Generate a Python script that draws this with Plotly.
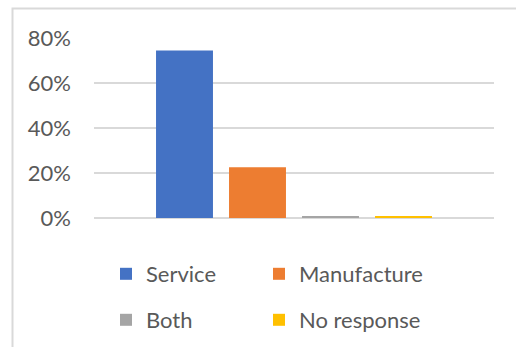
import plotly.graph_objects as go

# Share of respondents by business type
categories = ["Service", "Manufacture", "Both", "No response"]
shares = [0.745, 0.226, 0.008, 0.008]
colors = ["#4472C4", "#ED7D31", "#A5A5A5", "#FFC000"]
y_ticks = [0, 0.2, 0.4, 0.6, 0.8]

TEXT = "#595959"
GRID = "#D9D9D9"
FONT = "Lato"

W, H = 516, 347
# plot area: x 94..494, y 38..218 (px)
L, R, T, B = 94, 22, 38, 129
pw, ph = W - L - R, H - T - B

# legend slots (px in the page): two columns, two rows
legend_pos = [(106, 274), (259, 274), (106, 320), (259, 320)]
legend_keys = ["legend", "legend2", "legend3", "legend4"]

fig = go.Figure()
for name, val, col, key in zip(categories, shares, colors, legend_keys):
    fig.add_trace(go.Bar(
        x=[""], y=[val], name=name, marker_color=col,
        marker_line_width=0, legend=key, showlegend=True,
        hovertemplate="%{y:.0%}<extra>" + name + "</extra>",
    ))

def px_x(x):
    return (x - L) / pw

def px_y(y):
    return (H - B - y) / ph

legends = {}
for key, (lx, ly) in zip(legend_keys, legend_pos):
    legends[key] = dict(
        xref="container", yref="container",
        x=lx / W, y=1 - ly / H, xanchor="left", yanchor="middle",
        orientation="h",
        font=dict(family=FONT, size=22, color=TEXT),
        bgcolor="rgba(0,0,0,0)", borderwidth=0,
        itemclick=False, itemdoubleclick=False,
    )

fig.update_layout(
    width=W, height=H,
    margin=dict(l=L, r=R, t=T, b=B, pad=0),
    paper_bgcolor="white", plot_bgcolor="white",
    showlegend=True,
    barmode="group", bargap=0.27, bargroupgap=0.22,
    font=dict(family=FONT, size=22, color=TEXT),
    shapes=[dict(
        type="rect", xref="paper", yref="paper", layer="below",
        x0=px_x(12.5), x1=px_x(560), y0=px_y(400), y1=px_y(8.5),
        line=dict(color=GRID, width=2), fillcolor="rgba(0,0,0,0)",
    )],
    **legends,
)

fig.update_xaxes(showticklabels=False, showgrid=False, zeroline=False,
                 showline=False, ticks="")
fig.update_yaxes(
    range=[0, 0.8], tickvals=y_ticks, tickformat=".0%",
    showgrid=True, gridcolor=GRID, gridwidth=1.5,
    zeroline=True, zerolinecolor=GRID, zerolinewidth=1.5,
    showline=False, ticks="", ticklabelstandoff=22,
    tickfont=dict(family=FONT, size=22, color=TEXT),
)

fig.write_html("out.html")
